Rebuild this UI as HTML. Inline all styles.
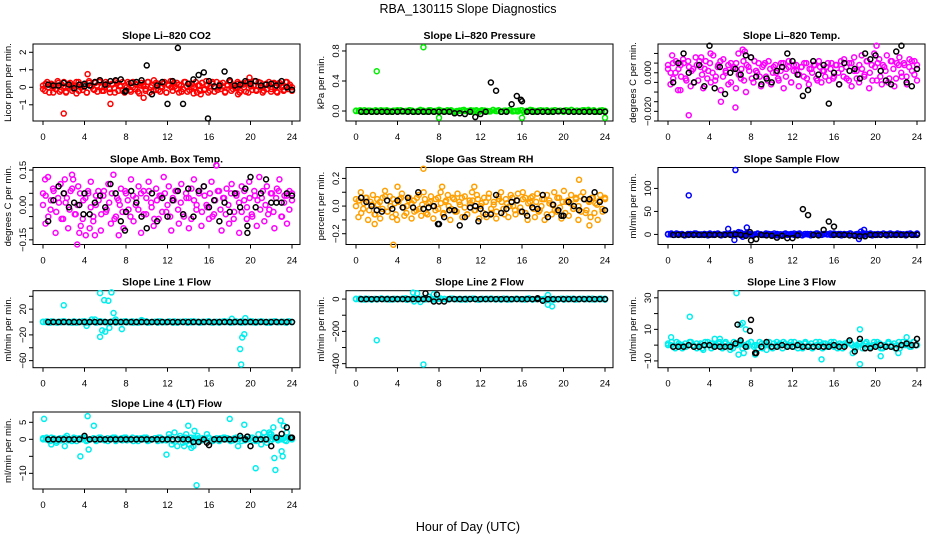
<!DOCTYPE html>
<html><head><meta charset="utf-8"><style>
html,body{margin:0;padding:0;background:#fff;}
svg{display:block;font-family:"Liberation Sans",sans-serif;}
</style></head><body>
<svg id="chart" width="936" height="540" viewBox="0 0 936 540" xmlns="http://www.w3.org/2000/svg">
<rect x="0" y="0" width="936" height="540" fill="#fff"/>
<text x="468" y="13" text-anchor="middle" font-size="12.5">RBA_130115  Slope Diagnostics</text>
<text x="468" y="531" text-anchor="middle" font-size="12.5">Hour of Day (UTC)</text>
</svg>
<script>
// ---- data ----
const hourTicks = [0,4,8,12,16,20,24];

const co2Main = [0.1,-0.2,0.3,-0.3,0.2,0.0,-0.1,0.35,-0.25,0.15,0.3,-0.3,0.05,0.25,-0.2,0.1,-0.35,0.3,0.0,-0.15,0.2,-0.3,0.35,0.1,-0.1,0.25,-0.25,0.4,0.0,-0.2,0.3,0.15,-0.3,0.2,-0.05,0.35,-0.2,0.1,0.3,-0.3,0.0,0.2,-0.25,0.3,-0.1,0.15,-0.35,0.25,0.05,-0.2,0.3,-0.3,0.1,0.4,-0.15,0.2,-0.25,0.0,0.3,-0.3,0.15,0.35,-0.2,0.05,0.25,-0.3,0.1,-0.1,0.3,-0.25,0.2,0.0,-0.35,0.3,0.1,-0.2,0.25,-0.15,0.35,-0.3,0.05,0.2,-0.25,0.3,0.0,-0.1,0.25,-0.3,0.15,0.35,-0.2,0.1,-0.05,0.3,-0.3,0.2,0.0,-0.25,0.3,0.1,-0.15,0.35,-0.2,0.05,0.25,-0.3,0.15,-0.1,0.3,-0.25,0.2,0.0,-0.3,0.25,0.1,-0.2,0.3,-0.1,0.15,0.0];
const co2MainB = [-0.1,0.2,0.0,0.15,-0.3,0.1,0.25,-0.15,0.05,-0.25,0.2,0.1,-0.1,0.3,-0.2,0.0,0.15,-0.3,0.25,0.05,-0.15,0.1,0.3,-0.2,0.0,0.2,-0.1,0.15,-0.3,0.25,0.05,-0.2,0.1,0.3,-0.15,0.0,0.2,-0.25,0.1,0.15,-0.1,0.3,0.0,-0.2,0.25,-0.15,0.05,0.2,-0.3,0.1,0.0,0.25,-0.1,0.15,-0.25,0.3,0.05,-0.15,0.2,0.0,-0.3,0.1,0.25,-0.1,0.15,-0.2,0.3,0.0,-0.15,0.2,0.05,-0.25,0.1,0.3,-0.1,0.0,0.2,-0.2,0.15,0.25,-0.3,0.05,0.1,-0.15,0.3,0.0,-0.2,0.2,0.1,-0.1,0.25,-0.25,0.15,0.0,-0.15,0.3,0.05,-0.2];
const co2MainOut = [[2,-1.5],[4.3,0.75],[6.5,-0.95],[9.7,-0.6],[15.2,-0.4],[19.9,0.55],[18.8,-0.4]];
const co2Ref = [0.15,0.1,0.1,0.25,0.15,-0.05,0.15,0.2,0.1,0.3,0.4,0.15,0.35,0.4,0.45,-0.2,0.25,0.3,0.4,1.25,-0.4,0.1,0.3,-0.95,0.35,2.25,-0.95,0.2,0.45,0.7,0.85,0.35,0.05,0.1,0.9,0.4,0.1,0.15,0.35,0.2,0.35,0.1,0.15,0.2,0.1,0.35,0.0,-0.15];
const co2RefOut = [[15.9,-1.78],[4,0.05],[7.9,-0.25]];

const presMain = [0,0.01,-0.01,0.005,0,-0.005,0.01,0,-0.01,0.005,0.01,-0.005,0,0.01,-0.01,0,0.005,-0.01,0.01,0,0.015,-0.005,0.01,0,-0.01,0.005,0.015,0,-0.01,0.01,0,0.005,-0.005,0.01,0,-0.01,0.005,0.01,0,-0.005,0.01,0,0.015,-0.01,0.005,0,0.01,-0.005,0.01,0,-0.01,0.005,0.01,0,-0.005,0.01,0.015,0,-0.01,0.005,0];
const presMainB = [0.005,0,-0.005,0.01,0,0.005,-0.01,0.01,0,-0.005,0.005,0.01,0,-0.01,0.005,0,0.01,-0.005,0,0.01,0.005,-0.01,0,0.015,0.005,-0.005,0.01,0,-0.01,0.005,0.01,0,-0.005,0.005,0.01,-0.01,0,0.005,0.01,0,-0.005,0.01,0.005,0,-0.01,0.01,0.005,0,-0.005,0.015,0,0.01,-0.01,0.005,0,0.01,-0.005,0,0.005,0.01,-0.01,0,0.005,0.01,0,-0.005,0.01,0.005,0,-0.01,0.005,0.01,0,0.005,-0.005,0.01,0,0.015,-0.01,0.005,0,0.01,-0.005,0.005,0,0.01,-0.01,0.005,0.01,0];
const presMainOut = [[2,0.53],[6.5,0.85],[8,-0.09],[16,-0.09],[24,-0.09]];
const presRef = [-0.01,-0.01,-0.01,-0.01,-0.01,-0.01,-0.01,-0.01,-0.005,-0.01,-0.01,-0.01,-0.01,-0.01,-0.01,-0.01,-0.01,-0.01,-0.03,-0.03,-0.04,-0.01,-0.08,-0.04,-0.01,0.38,0.27,-0.01,-0.01,0.09,0.2,0.13,-0.01,-0.01,-0.01,-0.01,-0.01,-0.01,-0.005,0,-0.01,-0.01,-0.01,-0.01,-0.01,-0.01,-0.01,-0.01];
const presRefOut = [[15.9,0.15]];

const tempMain = [0.002,-0.006,0.005,0.0,-0.009,0.004,0.007,-0.003,0.006,-0.007,0.002,0.008,-0.004,0.003,-0.008,0.006,0.001,-0.005,0.009,-0.002,0.004,-0.009,0.007,0.0,-0.006,0.005,0.002,-0.008,0.010,-0.003,0.006,-0.010,0.003,0.008,-0.005,0.001,0.005,-0.007,0.004,-0.002,0.006,-0.006,0.003,0.0,-0.004,0.005,-0.008,0.002,0.006,-0.005,0.001,0.004,-0.007,0.003,-0.002,0.005,-0.006,0.002,0.004,-0.003,0.006,-0.005,0.001,0.003,-0.004,0.005,-0.002,0.004,-0.006,0.002,0.007,-0.003,0.005,-0.007,0.008,0.001,-0.005,0.009,-0.002,0.006,-0.008,0.004,0.010,-0.004,0.007,-0.006,0.003,0.009,-0.003,0.006,-0.007,0.005,0.008,-0.002,0.004,-0.006,0.007,0.001,0.006,-0.004];
const tempMainB = [0.004,0.0,-0.003,0.006,0.002,-0.002,0.005,-0.004,0.003,0.001,-0.005,0.004,0.006,-0.001,0.002,-0.003,0.005,0.0,-0.004,0.003,0.006,-0.002,0.001,0.004,-0.005,0.003,0.005,-0.001,0.002,-0.004,0.004,0.001,-0.003,0.006,0.0,-0.002,0.003,0.005,-0.004,0.002,0.0,0.004,-0.003,0.001,0.005,-0.002,0.003,-0.005,0.004,0.001,-0.001,0.003,0.005,-0.003,0.002,0.0,0.004,-0.004,0.003,0.001,-0.002,0.005,0.002,-0.003,0.004,0.0,0.006,-0.002,0.003,-0.004,0.005,0.001,-0.003,0.004,0.002,-0.001,0.006,0.0,-0.004,0.003,0.005,-0.002,0.004,0.001,-0.005,0.006,0.002,-0.003,0.004,0.0,0.005,-0.002,0.003,0.006,-0.001,0.004];
const tempMainOut = [[2,-0.022],[5.1,-0.015],[6.5,-0.018],[0.4,0.009],[7.2,0.012],[7.4,0.011],[4.1,0.010],[20.1,0.014],[3.2,0.008],[1.2,-0.009]];
const tempRef = [-0.005,0.005,0.010,0.0,-0.005,0.004,-0.007,0.014,-0.008,0.003,-0.011,0.0,0.002,-0.001,0.009,0.008,-0.002,-0.006,-0.003,-0.005,0.001,0.003,0.010,0.006,-0.001,-0.012,-0.009,0.006,-0.001,0.004,-0.016,0.0,-0.006,0.005,0.001,0.002,-0.003,0.010,0.007,0.009,0.001,-0.004,-0.006,0.011,0.014,-0.005,-0.007,0.002];
const tempRefOut = [];

const ambMain = [0.05,-0.08,0.12,-0.02,0.07,-0.12,0.03,0.09,-0.06,0.01,-0.10,0.06,0.11,-0.04,0.08,-0.09,0.02,-0.13,0.05,0.10,-0.07,0.0,0.06,-0.11,0.04,-0.03,0.09,-0.08,0.13,-0.05,0.02,0.07,-0.10,0.05,-0.02,0.11,-0.07,0.03,0.08,-0.12,0.06,-0.04,0.10,0.01,-0.09,0.07,-0.06,0.04,0.12,-0.03,0.08,-0.11,0.02,0.06,-0.08,0.09,-0.05,0.03,-0.10,0.07,0.11,-0.02,0.05,-0.09,0.08,0.0,-0.06,0.10,-0.04,0.17,0.06,-0.11,0.03,0.07,-0.08,0.09,-0.03,0.05,-0.12,0.08,0.02,-0.06,0.10,-0.04,0.06,-0.09,0.12,0.03,-0.07,0.08,-0.02,0.05,-0.10,0.07,0.11,-0.05,0.04,-0.08,0.06,0.02];
const ambMainB = [0.0,0.04,-0.05,0.02,0.06,-0.03,0.01,-0.06,0.05,0.03,-0.02,0.07,-0.04,0.0,0.05,-0.06,0.03,0.06,-0.01,-0.05,0.04,0.02,-0.04,0.06,-0.02,0.01,0.05,-0.06,0.03,0.0,-0.03,0.06,0.02,-0.05,0.04,0.0,-0.02,0.05,-0.04,0.03,0.06,-0.01,-0.06,0.02,0.04,-0.03,0.05,0.0,-0.05,0.03,0.06,-0.02,0.01,-0.04,0.05,0.03,-0.06,0.02,0.0,0.06,-0.03,0.04,-0.01,0.05,-0.05,0.02,0.06,-0.02,0.03,-0.04,0.0,0.05,-0.06,0.04,0.01,-0.03,0.06,-0.01,0.03,-0.05,0.04,0.02,-0.02,0.06,0.0,-0.04,0.05,-0.03,0.03,0.06,-0.05,0.01,0.04,-0.02,0.05];
const ambMainOut = [[0.2,0.11],[2.1,0.11],[2.8,0.13],[3.3,-0.17],[3.5,-0.12],[5.0,-0.13],[7.3,-0.13],[4.5,-0.1],[16.7,0.17]];
const ambRef = [-0.07,0.02,0.08,0.05,-0.01,0.01,0.0,0.05,-0.04,0.01,0.04,-0.01,0.09,0.05,-0.07,-0.03,0.06,0.01,-0.05,-0.1,0.05,-0.07,0.03,-0.05,0.02,0.06,-0.04,0.07,-0.05,0.06,0.08,-0.01,0.02,-0.07,0.01,-0.03,0.05,-0.01,0.07,0.12,-0.01,0.05,0.11,0.01,0.01,0.01,0.05,0.04];
const ambRefOut = [[19.7,-0.12],[19.7,-0.09],[7.9,-0.11],[3.9,-0.04]];

const rhMain = [0.05,-0.08,0.10,-0.02,0.06,-0.10,0.03,0.08,-0.06,0.01,-0.09,0.06,0.11,-0.04,0.07,-0.08,0.02,-0.10,0.05,0.09,-0.07,0.0,0.06,-0.09,0.04,-0.03,0.08,-0.07,0.10,-0.05,0.02,0.07,-0.09,0.05,-0.02,0.10,-0.06,0.03,0.08,-0.10,0.06,-0.04,0.09,0.01,-0.08,0.07,-0.06,0.04,0.10,-0.03,0.08,-0.09,0.02,0.06,-0.08,0.09,-0.05,0.03,-0.09,0.07,0.10,-0.02,0.05,-0.08,0.08,0.0,-0.06,0.09,-0.04,0.10,0.06,-0.10,0.03,0.07,-0.08,0.09,-0.03,0.05,-0.10,0.08,0.02,-0.06,0.10,-0.04,0.06,-0.09,0.11,0.03,-0.07,0.08,-0.02,0.05,-0.10,0.07,0.10,-0.05,0.04,-0.08,0.06,0.02,-0.1,0.08,-0.04,0.06];
const rhMainB = [0.0,0.04,-0.05,0.02,0.06,-0.03,0.01,-0.06,0.05,0.03,-0.02,0.07,-0.04,0.0,0.05,-0.06,0.03,0.06,-0.01,-0.05,0.04,0.02,-0.04,0.06,-0.02,0.01,0.05,-0.06,0.03,0.0,-0.03,0.06,0.02,-0.05,0.04,0.0,-0.02,0.05,-0.04,0.03,0.06,-0.01,-0.06,0.02,0.04,-0.03,0.05,0.0,-0.05,0.03,0.06,-0.02,0.01,-0.04,0.05,0.03,-0.06,0.02,0.0,0.06,-0.03,0.04,-0.01,0.05,-0.05,0.02,0.06,-0.02,0.03,-0.04,0.0,0.05,-0.06,0.04,0.01,-0.03,0.06,-0.01,0.03,-0.05,0.04,0.02,-0.02,0.06,0.0,-0.04,0.05,-0.03,0.03,0.06,-0.05,0.01,0.04,-0.02,0.05];
const rhMainOut = [[3.6,-0.28],[6.5,0.27],[21.5,0.19],[1.8,-0.13],[22.5,-0.14],[4.0,0.14],[8.3,0.14],[11.4,0.14]];
const rhRef = [0.06,0.03,0.0,-0.03,-0.04,0.04,-0.02,0.04,-0.01,0.06,-0.01,0.1,-0.02,-0.01,0.0,-0.13,-0.08,-0.03,-0.03,-0.14,-0.08,-0.01,0.0,-0.02,-0.06,-0.06,0.08,-0.05,-0.02,0.03,0.04,-0.04,-0.07,-0.01,-0.02,0.08,-0.08,0.01,-0.03,-0.07,0.03,0.0,-0.03,0.05,0.05,0.1,0.03,-0.03];
const rhRefOut = [[7.9,-0.13],[11.8,-0.11],[19.8,-0.07]];

const sampMain = [0,2,-1,1,0,-2,1,0,2,-1,0,1,-2,0,1,2,-1,0,1,-1,2,0,-2,1,0,1,-1,2,0,-1,1,0,2,-2,0,1,-1,0,2,1,-1,0,1,-2,0,2,-1,1,0,-1,2,0,1,-1,0,2,-2,1,0,-1,1,2,0,-1,0,1,-2,2,0,1,-1,0,1,2,-1,0];
const sampMainB = [1,0,-1,2,0,1,-2,0,1,-1,2,0,-1,1,0,2,-1,0,1,-2,0,1,2,-1,0,1,-1,0,2,1,-2,0,1,0,-1,2,1,0,-2,1,0,-1,2,0,1,-1,0,2,-2,1,0,1,-1,2,0,-1,1,0,2,-1,0,1,-2,1,0,2,-1,0,1,-1,2,0,1,-2,0,1,-1,2,0,1,0,-1,2,1,0,-2,1,0,-1,2];
const sampMainOut = [[2,85],[6.5,140],[6.4,-12],[5.8,12],[7.6,15],[18.4,-10],[18.6,6],[18.9,10],[6.8,5],[7.2,-5],[7.0,4]];
const sampRef = [-1,-1,-1,-1,-1,-1,-1,-1,-1,-1,-1,-1,0,-1,-3,-13,-10,-1,-2,-3,-7,-3,-8,-8,-2,55,42,-1,-2,10,28,17,-1,-1,-2,-3,-4,-4,-1,-1,-1,-1,-1,-1,-1,-1,-1,-1];
const sampRefOut = [[7.9,5],[16,-1]];

const l1Main = [0,1,-1,0.5,0,-0.5,1,0,-1,0.5,0,1,-1,0,0.5,-0.5,1,0,-1,0.5,1,0,-0.5,1,0,-1,0.5,0,1,-1,0,0.5,1,-0.5,0,1,-1,0,0.5,0,-1,1,0,0.5,-0.5,0,1,-1,0,0.5,1,0,-1,0.5,0,1,-0.5,0,1,-1,0,0.5,0,-1,1,0,0.5,-0.5,1,0];
const l1MainB = [0.5,0,-0.5,1,0,-1,0.5,1,0,-0.5,0,1,-1,0.5,0,1,-0.5,0,0.5,-1,1,0,0.5,-0.5,0,1,-1,0,0.5,1,-0.5,0,1,0,-1,0.5,0,1,-0.5,0,0.5,-1,1,0,-0.5,0.5,0,1,-1,0,0.5,1,0,-0.5,1,0,-1,0.5,0,1,-0.5,0,0.5,-1,0,1,0.5,0,-0.5,1,0,-1,0.5,0,1,-0.5,0,0.5,1,0,-1,0.5,0,1,-0.5,0,0.5,-1,1,0];
const l1MainOut = [[2,26],[5.5,45],[5.9,34],[6.3,33],[6.6,46],[6.8,14],[5.5,-23],[5.7,-13],[6.0,-15],[6.4,-9],[7.6,-11],[4.2,-6],[19.0,-42],[19.1,-66],[19.2,-24],[19.4,-19],[19.5,6],[18.2,5],[5,4],[4.7,4],[9.5,3],[7.0,4]];
const l1Ref = [0,0,0,0,0,0,0,0,0,0,0,0,0,0,0,0,0,0,0,0,0,0,0,0,0,0,0,0,0,0,0,0,0,0,0,0,0,0,0,0,0,0,0,0,0,0,0,0];
const l1RefOut = [];

const l2Main = [0,3,-3,1,0,-2,4,0,-3,2,0,3,-4,0,2,-2,3,0,-3,1,4,0,-2,3,0,-3,2,0,3,-4,0,2,3,-2,0,3,-3,0,2,0,-3,4,0,2,-2,0,3,-4,0,2,3,0,-3,2,0,3,-2,0,3,-3];
const l2MainB = [2,0,-2,3,0,-3,1,0,2,-1,3,0,-2,1,0,3,-3,0,2,-1,0,3,-2,1,0,-3,2,0,1,-2,3,0,-1,2,0,-3,1,3,0,-2,2,0,-1,3,0,1,-3,0,2,-2,0,3,-1,0,2,1,-3,0,2,-1,3,0,-2,1,0,2,-3,0,1,3,-2,0,2,-1,0,3,-2,1,0,2];
const l2MainOut = [[2,-255],[6.5,-405],[5.5,40],[5.9,35],[7.5,30],[5.6,-15],[6.2,-18],[18.5,25],[18.5,-35],[18.9,-45],[4.8,5],[7.0,15]];
const l2Ref = [0,0,0,0,0,0,0,0,0,0,0,0,0,0,-15,-15,-15,0,0,0,0,0,0,0,0,0,0,0,0,0,0,0,0,0,0,-10,0,0,0,0,0,0,0,0,0,0,0,0];
const l2RefOut = [[6.7,35],[7.8,28],[17.5,5]];

const l3Main = [0,2,-2,1,0,-1,2,0,-2,1,0,2,-2,0,1,-1,2,0,-2,1,2,0,-1,2,0,-2,1,0,2,-2,0,1,2,-1,0,2,-2,0,1,0,-2,2,0,1,-1,0,2,-2,0,1,2,0,-2,1,0,2,-1,0,2,-2,0,1,0,-2,2,0,1,-1,2,0];
const l3MainB = [1,0,-1,2,0,-2,1,0,2,-1,1,0,-2,2,0,1,-1,0,2,-2,1,0,-1,2,0,1,-2,0,1,2,-1,0,2,-2,1,0,-1,1,2,0,-2,1,0,2,-1,0,1,-2,2,0,1,-1,0,2,-2,1,0,2,-1,0,1,-2,0,2,1,-1,0,2,-2,1,0,-1,2,0,1,-2,0,2,-1,1,0,-2,2,0,1,-1,2,0];
const l3MainOut = [[0.3,5],[2.1,18],[6.6,33],[7.0,13],[7.2,14],[7.5,10],[7.3,-5],[6.8,-6],[8.4,-6],[9.5,-3],[4.5,4],[5,4],[14.8,-9],[18.5,-12],[18.5,10],[20.5,-7],[23,5],[22.2,-5],[6.0,-3],[17.8,-5],[3.4,-3]];
const l3Ref = [-1,-1,-1,0,-1,-1,0,0,-1,-1,-1,-1,1,3,-1,16,-5,-1,2,-1,-1,0,-1,-1,0,-1,-1,-1,-1,-1,-1,0,-1,-1,3,-4,4,-2,-2,-1,0,-1,-1,-2,0,1,0,4];
const l3RefOut = [[6.7,13],[7.9,9],[8.4,-5],[23.9,0]];

const l4Main = [0,0.5,-0.5,0.3,0,-0.3,0.5,0,-0.5,0.3,0,0.5,-0.5,0,0.3,-0.3,0.5,0,-0.5,0.3,0.5,0,-0.3,0.5,0,-0.5,0.3,0,0.5,-0.5,0,0.3,0.5,-0.3,0,0.5,-0.5,0,0.3,0,-0.5,0.5,0,0.3,-0.3,0,0.5,-0.5,0,0.3,0.5,0,-0.5,0.3,0,0.5,-0.3,0,0.5,-0.5,0,0.3,0,-0.5,0.5,0,0.3,-0.3,0.5,0];
const l4MainB = [0.3,0,-0.3,0.5,0,-0.5,0.3,0,0.5,-0.3,0,0.5,-0.5,0.3,0,0.5,-0.3,0,0.3,-0.5,0.5,0,-0.3,0.3,0,0.5,-0.5,0,0.3,0.5,-0.3,0,0.5,0,-0.5,0.3,0,0.5,-0.3,0,0.3,-0.5,0.5,0,-0.3,1.5,-1.5,2,-2,1,-1,0.5,0,-0.3,0.5,0,-0.5,0.3,0,0.5,-0.3,0,0.3,-0.5,0,0.5,0.3,0,-0.3,0.5,0,-0.5,0.3,0,0.5,-0.3,0,1.5,-1.5,2,-1,1.5,0,0.5,-0.3,0,0.3,-0.5,0.5,0];
const l4MainOut = [[0.1,6],[4.3,6.8],[4.9,4],[3.6,-5],[4.4,-3],[2.1,-2],[0.8,-1.5],[11.9,-4.5],[14.8,-13.5],[14,4],[18,6],[19.4,4.3],[20.5,-8.5],[22.4,-9],[22.3,-5.5],[23,-3.5],[23.1,-5],[22.9,5.5],[23.2,4],[22.2,3.5],[15.8,1.5],[14.3,-2.5],[14.6,2.5],[18.8,-2],[13.6,-2],[13.8,1.5],[14.1,-1.5],[14.5,-2],[14.9,1],[21.8,2],[22.0,1.5],[23.5,2],[1.3,-1],[2.3,1]];
const l4Ref = [0,0,0,0,0,0,0,1,0,0,0,0,0,0,0,0,0,0,0,0,0,0,0,0,0,0,0,0,-0.8,-0.8,0,-1.7,0,0,0,0,0,1,0,-2,0,0,0,-2,0.5,1.6,3.5,0.5];
const l4RefOut = [[15.8,-1],[19.7,0.8],[23.9,0.5]];

// ---- layout (not data) ----
const colLeft = [33, 346, 658];
const rowTop = [44, 167.5, 290.7, 412];
const boxW = 267, boxH = 77;

const panels = [
 {name:'co2', col:0,row:0,title:'Slope Li\u2013820 CO2',ylab:'Licor ppm per min.',ymin:-1.926,ymax:2.474,ticks:[-1,0,1,2],labels:['\u22121','0','1','2'],color:'#ff0000',main:co2Main,mainB:co2MainB,mainOut:co2MainOut,ref:co2Ref,refOut:co2RefOut},
 {name:'pressure', col:1,row:0,title:'Slope Li\u2013820 Pressure',ylab:'kPa per min.',ymin:-0.133,ymax:0.893,ticks:[0,0.4,0.8],labels:['0.0','0.4','0.8'],color:'#00ee00',main:presMain,mainB:presMainB,mainOut:presMainOut,ref:presRef,refOut:presRefOut},
 {name:'temp', col:2,row:0,title:'Slope Li\u2013820 Temp.',ylab:'degrees C per min.',ymin:-0.025,ymax:0.0149,ticks:[-0.025,-0.02,-0.015,-0.01,-0.005,0,0.005,0.01],labels:['','\u22120.020','','','','0.000','',''],color:'#ff00ff',main:tempMain,mainB:tempMainB,mainOut:tempMainOut,ref:tempRef,refOut:tempRefOut},
 {name:'amb-box-temp', col:0,row:1,title:'Slope Amb. Box Temp.',ylab:'degrees C per min.',ymin:-0.170,ymax:0.161,ticks:[-0.15,-0.1,-0.05,0,0.05,0.1,0.15],labels:['\u22120.15','','','0.00','','','0.15'],color:'#ff00ff',main:ambMain,mainB:ambMainB,mainOut:ambMainOut,ref:ambRef,refOut:ambRefOut},
 {name:'gas-stream-rh', col:1,row:1,title:'Slope Gas Stream RH',ylab:'percent per min.',ymin:-0.278,ymax:0.279,ticks:[-0.2,-0.1,0,0.1,0.2],labels:['\u22120.2','','0.0','','0.2'],color:'#ff9f00',main:rhMain,mainB:rhMainB,mainOut:rhMainOut,ref:rhRef,refOut:rhRefOut},
 {name:'sample-flow', col:2,row:1,title:'Slope Sample Flow',ylab:'ml/min per min.',ymin:-21.9,ymax:145.5,ticks:[0,50,100],labels:['0','50','100'],color:'#0000ff',main:sampMain,mainB:sampMainB,mainOut:sampMainOut,ref:sampRef,refOut:sampRefOut},
 {name:'line1-flow', col:0,row:2,title:'Slope Line 1 Flow',ylab:'ml/min per min.',ymin:-71,ymax:48.7,ticks:[-60,-40,-20,0,20,40],labels:['\u221260','','\u221220','','20',''],color:'#00eeee',main:l1Main,mainB:l1MainB,mainOut:l1MainOut,ref:l1Ref,refOut:l1RefOut},
 {name:'line2-flow', col:1,row:2,title:'Slope Line 2 Flow',ylab:'ml/min per min.',ymin:-425,ymax:51.9,ticks:[-400,-300,-200,-100,0],labels:['\u2212400','','\u2212200','','0'],color:'#00eeee',main:l2Main,mainB:l2MainB,mainOut:l2MainOut,ref:l2Ref,refOut:l2RefOut},
 {name:'line3-flow', col:2,row:2,title:'Slope Line 3 Flow',ylab:'ml/min per min.',ymin:-14.3,ymax:34.5,ticks:[-10,0,10,20,30],labels:['\u221210','','10','','30'],color:'#00eeee',main:l3Main,mainB:l3MainB,mainOut:l3MainOut,ref:l3Ref,refOut:l3RefOut},
 {name:'line4-flow', col:0,row:3,title:'Slope Line 4 (LT) Flow',ylab:'ml/min per min.',ymin:-14.6,ymax:8.03,ticks:[-10,-5,0,5],labels:['\u221210','','0','5'],color:'#00eeee',main:l4Main,mainB:l4MainB,mainOut:l4MainOut,ref:l4Ref,refOut:l4RefOut}
];

const NS = 'http://www.w3.org/2000/svg';
const svg = document.getElementById('chart');
function mk(tag, attrs, parent){
  const e = document.createElementNS(NS, tag);
  for (const k in attrs) e.setAttribute(k, attrs[k]);
  (parent||svg).appendChild(e);
  return e;
}

panels.forEach(p => {
  const L = colLeft[p.col], T = rowTop[p.row];
  const g = mk('g', {});
  
  
  const xs = h => L + 10 + h / 24 * 249;
  const ys = v => T + boxH - (v - p.ymin) / (p.ymax - p.ymin) * boxH;

  const title = mk('text', {x: L + boxW/2, y: T - 5, 'text-anchor':'middle', 'font-size':'10.5', 'font-weight':'bold'}, g);
  title.textContent = p.title;
  
  

  const yl = mk('text', {transform:`translate(${L-22},${T+boxH/2}) rotate(-90)`, 'text-anchor':'middle', 'font-size':'9.5'}, g);
  yl.textContent = p.ylab;
  
  

  const box = mk('rect', {x:L, y:T, width:boxW, height:boxH, fill:'none', stroke:'#000', 'stroke-width':1}, g);
  
  

  hourTicks.forEach(h => {
    const x = xs(h);
    const tk = mk('line', {x1:x, x2:x, y1:T+boxH, y2:T+boxH+4, stroke:'#000', 'stroke-width':1}, g);
    
    
    const lb = mk('text', {x:x, y:T+boxH+19, 'text-anchor':'middle', 'font-size':'9.5'}, g);
    lb.textContent = String(h);
    
    
  });
  p.ticks.forEach((v, i) => {
    const y = ys(v);
    const tk = mk('line', {x1:L-4, x2:L, y1:y, y2:y, stroke:'#000', 'stroke-width':1}, g);
    
    
    if (p.labels[i]) {
      const lb = mk('text', {transform:`translate(${L-7},${y}) rotate(-90)`, 'text-anchor':'middle', 'font-size':'9.5'}, g);
      lb.textContent = p.labels[i];
      
      
    }
  });

  function pt(h, v, color, nm){
    const c = mk('circle', {cx:xs(h), cy:ys(v), r:2.5, fill:'none', stroke:color, 'stroke-width':1.5}, g);
    
    
  }
  const n = p.main.length;
  p.main.forEach((v, i) => pt(i * 24 / (n - 1), v, p.color, 'point-instrument'));
  const nb = p.mainB.length;
  p.mainB.forEach((v, i) => pt(i * 24 / (nb - 1), v, p.color, 'point-instrument'));
  p.mainOut.forEach(d => pt(d[0], d[1], p.color, 'point-instrument'));
  p.ref.forEach((v, i) => pt((i + 1) * 0.5, v, '#000', 'point-reference'));
  p.refOut.forEach(d => pt(d[0], d[1], '#000', 'point-reference'));
});
</script>
</body></html>
